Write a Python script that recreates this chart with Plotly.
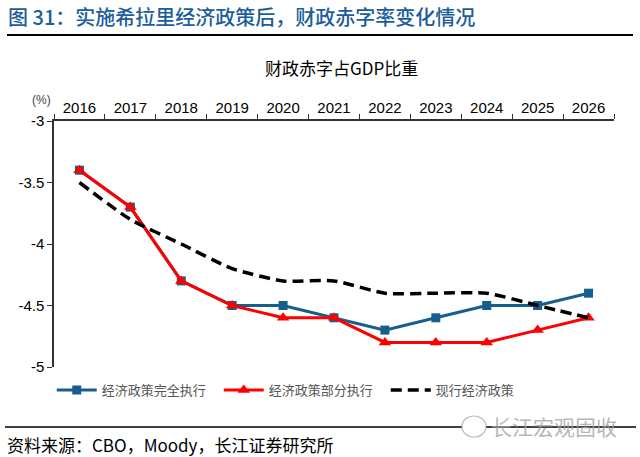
import plotly.graph_objects as go

years = ["2016", "2017", "2018", "2019", "2020", "2021", "2022", "2023", "2024", "2025", "2026"]
full_exec = [-3.4, -3.7, -4.3, -4.5, -4.5, -4.6, -4.7, -4.6, -4.5, -4.5, -4.4]
partial_exec = [-3.4, -3.7, -4.3, -4.5, -4.6, -4.6, -4.8, -4.8, -4.8, -4.7, -4.6]
current_policy = [-3.5, -3.8, -4.0, -4.2, -4.3, -4.3, -4.4, -4.4, -4.4, -4.5, -4.6]
names = ["经济政策完全执行", "经济政策部分执行", "现行经济政策"]
y_ticks = [-5, -4.5, -4, -3.5, -3]
y_labels = ["-5", "-4.5", "-4", "-3.5", "-3"]

BLUE = "#165E8E"
RED = "#FF0000"
CJK = "Noto Sans CJK SC"
LAT = "Liberation Sans, Arial"

L, R, T, B = 54, 26, 121, 90
W, H = 640, 457
PW, PH = W - L - R, H - T - B


def px(x):
    return (x - L) / PW


def py(y):
    return (H - B - y) / PH


fig = go.Figure()
fig.add_trace(go.Scatter(x=years, y=full_exec, name=names[0], mode="lines+markers",
                         line=dict(color=BLUE, width=3),
                         marker=dict(symbol="square", size=9, color=BLUE)))
fig.add_trace(go.Scatter(x=years, y=partial_exec, name=names[1], mode="lines+markers",
                         line=dict(color=RED, width=3),
                         marker=dict(symbol="triangle-up", size=11, color=RED)))
fig.add_trace(go.Scatter(x=years, y=current_policy, name=names[2], mode="lines",
                         line=dict(color="black", width=3.5, dash="11px,6px", shape="spline",
                                   smoothing=0.6)))

fig.update_layout(
    width=W, height=H,
    margin=dict(l=L, r=R, t=T, b=B, autoexpand=False),
    paper_bgcolor="white", plot_bgcolor="white",
    showlegend=True,
    legend=dict(orientation="h", x=-0.004, xanchor="left", y=py(390), yanchor="middle",
                font=dict(family=CJK, size=13, color="#555555"),
                itemwidth=40, entrywidth=112, entrywidthmode="pixels",
                tracegroupgap=0, bgcolor="rgba(0,0,0,0)"),
    xaxis=dict(type="category", side="top", showline=True, linecolor="#333333", linewidth=1.5,
               ticks="outside", ticklen=5, tickcolor="#333333", tickson="boundaries",
               showgrid=False, zeroline=False, range=[-0.5, 10.5], automargin=False,
               tickfont=dict(family=LAT, size=15, color="black")),
    yaxis=dict(range=[-5, -3], tickvals=y_ticks, ticktext=y_labels, showline=True,
               linecolor="#333333", linewidth=1.5, automargin=False,
               ticks="outside", ticklen=5, tickcolor="#333333", showgrid=False, zeroline=False,
               tickfont=dict(family=LAT, size=15, color="black")),
)

# Figure heading
fig.add_annotation(text="图 31：实施希拉里经济政策后，财政赤字率变化情况", xref="paper", yref="paper",
                   x=px(6), y=py(17), xanchor="left", yanchor="middle", showarrow=False,
                   font=dict(family=CJK, size=20, color="#1C5E9A", weight=500))
fig.add_shape(type="line", xref="paper", yref="paper", x0=px(7), x1=px(633), y0=py(35), y1=py(35),
              line=dict(color="black", width=2))
# Chart title
fig.add_annotation(text="财政赤字占GDP比重", xref="paper", yref="paper", x=px(341),
                   y=py(67), xanchor="center", yanchor="middle", showarrow=False,
                   font=dict(family=CJK, size=17, color="black"))
# unit
fig.add_annotation(text="(%)", xref="paper", yref="paper", x=px(41),
                   y=py(100), xanchor="center", yanchor="middle", showarrow=False,
                   font=dict(family=LAT, size=12, color="#444444"))
# bottom rule
fig.add_shape(type="line", xref="paper", yref="paper", x0=px(5), x1=px(636),
              y0=py(427), y1=py(427), line=dict(color="black", width=1.5))
# source
fig.add_annotation(text="资料来源：CBO，Moody，长江证券研究所", xref="paper", yref="paper",
                   x=px(5), y=py(444), xanchor="left", yanchor="middle",
                   showarrow=False, font=dict(family=CJK, size=17, color="black"))
# watermark
fig.add_shape(type="circle", xref="paper", yref="paper", x0=px(462), x1=px(486),
              y0=py(437), y1=py(416), line=dict(color="rgba(170,170,170,0.8)", width=1.2),
              fillcolor="white")
fig.add_annotation(text="长江宏观固收", xref="paper", yref="paper",
                   x=px(489), y=py(426), xanchor="left", yanchor="middle",
                   showarrow=False, font=dict(family=CJK, size=21, color="rgba(160,160,160,0.75)"))

fig.write_html("out.html", post_script="document.body.style.margin='0';",
               config={"displayModeBar": False})
